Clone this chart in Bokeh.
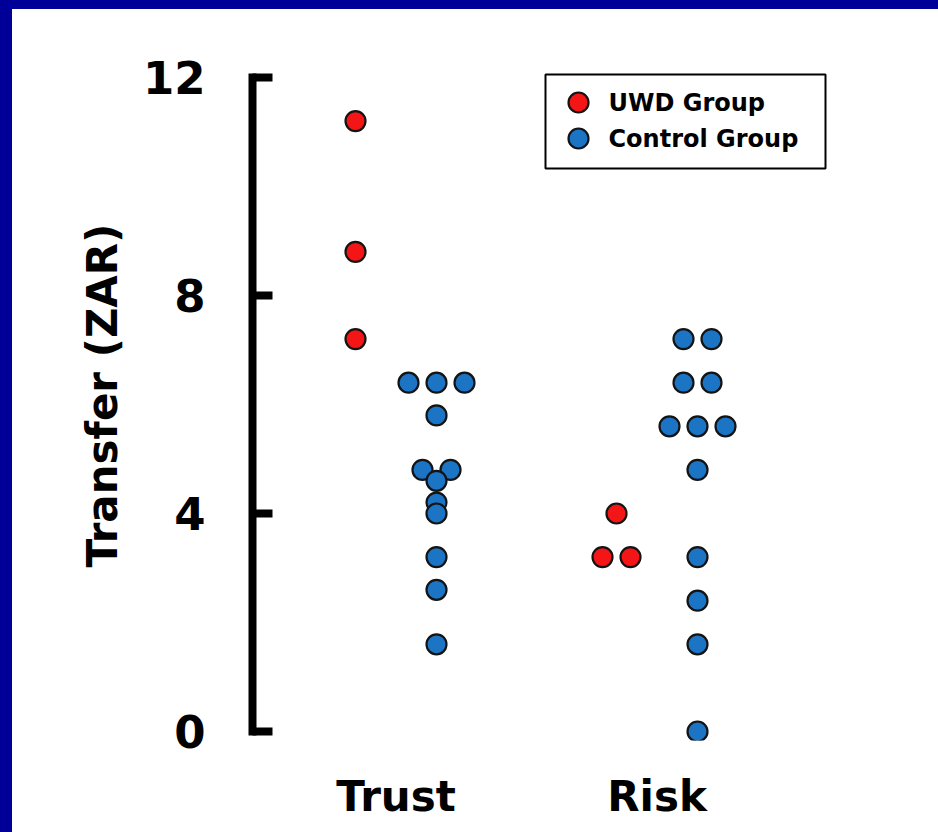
import numpy as np
from bokeh.plotting import figure
from bokeh.models import FixedTicker, Range1d
from bokeh.core.properties import value
from bokeh.embed import file_html
from bokeh.resources import INLINE

# ---------------- data ----------------
categories = ["Trust", "Risk"]
groups = ["UWD Group", "Control Group"]
trust_uwd = [11.2, 8.8, 7.2]
trust_control = [6.4, 6.4, 6.4, 5.8, 4.8, 4.8, 4.6, 4.2, 4.0, 3.2, 2.6, 1.6]
risk_uwd = [4.0, 3.2, 3.2]
risk_control = [7.2, 7.2, 6.4, 6.4, 5.6, 5.6, 5.6, 4.8, 3.2, 2.4, 1.6, 0.0]
y_ticks = [0, 4, 8, 12]
y_label = "Transfer (ZAR)"

# ---------------- layout (pixels) ----------------
W, H = 938, 832
frame_left, frame_right, frame_top, frame_bottom = 252, 918, 50, 740
y0_px, y12_px = 731, 77
cat0_px, cat1_px = 395.5, 656.5
group_offset_px = 40.5
jitter_px = 28
# legend box (pixels)
leg_l, leg_r, leg_t, leg_b = 545, 825, 74, 168
leg_marker_x, leg_text_x = 578, 608
leg_rows = [102, 138]

ppu_y = (y0_px - y12_px) / 12.0
ppu_x = cat1_px - cat0_px
y_start = -(frame_bottom - y0_px) / ppu_y
y_end = 12 + (y12_px - frame_top) / ppu_y
x_start = (frame_left - cat0_px) / ppu_x
x_end = (frame_right - cat0_px) / ppu_x
g_off = group_offset_px / ppu_x
jit = jitter_px / ppu_x


def dx(px):
    return (px - cat0_px) / ppu_x


def dy(py):
    return (y0_px - py) / ppu_y


RED = "#f41616"
BLUE = "#1c74c4"
EDGE = "#141414"
FONT = "DejaVu Sans"


def spread(values, center):
    counts = {}
    for v in values:
        counts[v] = counts.get(v, 0) + 1
    seen = {}
    xs = []
    for v in values:
        n = counts[v]
        k = seen.get(v, 0)
        seen[v] = k + 1
        xs.append(center + (k - (n - 1) / 2.0) * jit)
    return xs


uwd_x = spread(trust_uwd, 0 - g_off) + spread(risk_uwd, 1 - g_off)
uwd_y = trust_uwd + risk_uwd
ctl_x = spread(trust_control, 0 + g_off) + spread(risk_control, 1 + g_off)
ctl_y = trust_control + risk_control

p = figure(
    width=W, height=H,
    output_backend="svg", toolbar_location=None,
    x_range=Range1d(x_start, x_end), y_range=Range1d(y_start, y_end),
    min_border_left=frame_left, min_border_right=W - frame_right,
    min_border_top=frame_top, min_border_bottom=H - frame_bottom,
    border_fill_color=None, background_fill_color="white",
    outline_line_color=None,
    styles={
        "background": "linear-gradient(#000099,#000099) 0 0/100% 9px no-repeat, "
                      "linear-gradient(#000099,#000099) 0 0/12px 100% no-repeat, #ffffff",
    },
)
p.grid.visible = False

p.scatter(uwd_x, uwd_y, size=20, fill_color=RED, line_color=EDGE, line_width=2.2)
p.scatter(ctl_x, ctl_y, size=20, fill_color=BLUE, line_color=EDGE, line_width=2.2)

# legend (drawn manually for exact sizing)
p.quad(left=[dx(leg_l)], right=[dx(leg_r)], top=[dy(leg_t)], bottom=[dy(leg_b)],
       fill_color="white", line_color="black", line_width=2)
p.scatter([dx(leg_marker_x)] * 2, [dy(r) for r in leg_rows], size=20,
          fill_color=[RED, BLUE], line_color=EDGE, line_width=2.2)
p.text([dx(leg_text_x)] * 2, [dy(r) for r in leg_rows], text=groups,
       text_font=value(FONT), text_font_style="bold", text_font_size="24px",
       text_color="black", text_baseline="middle", text_align="left")

# y axis
ya = p.yaxis[0]
ya.ticker = FixedTicker(ticks=y_ticks)
ya.minor_tick_line_color = None
ya.bounds = (0, 12)
ya.axis_line_width = 8
ya.axis_line_color = "black"
ya.axis_line_cap = "square"
ya.major_tick_in = 20
ya.major_tick_out = 0
ya.major_tick_line_width = 8
ya.major_tick_line_color = "black"
ya.major_label_standoff = 47
ya.major_label_text_font = FONT
ya.major_label_text_font_style = "bold"
ya.major_label_text_font_size = "45px"
ya.major_label_text_color = "black"
ya.axis_label = y_label
ya.axis_label_text_font = FONT
ya.axis_label_text_font_style = "bold"
ya.axis_label_text_font_size = "42px"
ya.axis_label_text_color = "black"
ya.axis_label_standoff = 13

# x axis (category labels)
xa = p.xaxis[0]
xa.ticker = FixedTicker(ticks=list(range(len(categories))))
xa.major_label_overrides = {i: c for i, c in enumerate(categories)}
xa.axis_line_color = None
xa.major_tick_line_color = None
xa.minor_tick_line_color = None
xa.major_label_standoff = 25
xa.major_label_text_font = FONT
xa.major_label_text_font_style = "bold"
xa.major_label_text_font_size = "42px"
xa.major_label_text_color = "black"

open("out.html", "w").write(file_html(p, INLINE))
